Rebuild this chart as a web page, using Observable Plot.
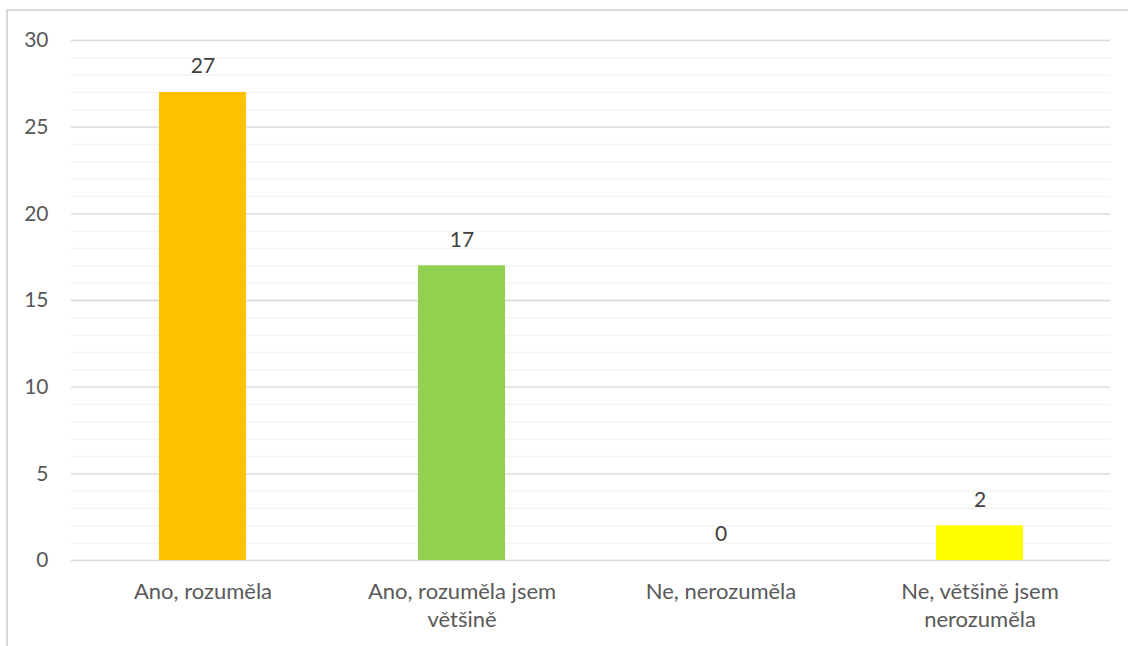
<!DOCTYPE html>
<html>
<head>
<meta charset="utf-8">
<script src="https://cdn.jsdelivr.net/npm/d3@7"></script>
<script src="https://cdn.jsdelivr.net/npm/@observablehq/plot@0.6"></script>
<style>
  html, body { margin: 0; padding: 0; background: #fff; overflow: hidden; }
  #wrap { position: relative; width: 1128px; height: 646px; overflow: hidden; }
  #border { position: absolute; left: 6px; top: 9px; width: 1200px; height: 700px;
            border: 2px solid #d9d9d9; box-sizing: border-box; pointer-events: none; }
  #chart { position: absolute; left: 0; top: 0; }
</style>
</head>
<body>
<div id="wrap"><div id="border"></div><div id="chart"></div></div>
<script>
// Answers to "Did you understand it?" — counts per answer
const categories = [
  "Ano, rozuměla",
  "Ano, rozuměla jsem\nvětšině",
  "Ne, nerozuměla",
  "Ne, většině jsem\nnerozuměla"
];
const values = [27, 17, 0, 2];
const colors = ["#FFC000", "#92D050", "#5B9BD5", "#FFFF00"];
const majorTicks = [0, 5, 10, 15, 20, 25, 30];
const minorTicks = d3.range(0, 31);

const data = categories.map((c, i) => ({category: c, value: values[i], color: colors[i]}));

const chart = Plot.plot({
  width: 1128,
  height: 646,
  marginLeft: 71,
  marginRight: 18,
  marginTop: 40,
  marginBottom: 86,
  style: {fontFamily: "Lato, 'Open Sans', sans-serif", fontSize: "21px", color: "#595959", background: "transparent"},
  x: {domain: categories, paddingInner: 0.665, paddingOuter: 0.3325, label: null},
  y: {domain: [0, 30], label: null},
  marks: [
    Plot.ruleY(minorTicks, {stroke: "#f2f2f2", strokeWidth: 1.3}),
    Plot.ruleY(majorTicks, {stroke: "#d9d9d9", strokeWidth: 1.3}),
    Plot.barY(data, {x: "category", y: "value", fill: "color"}),
    Plot.text(data, {x: "category", y: "value", text: d => String(d.value), dy: -26, fill: "#404040", fontSize: 21}),
    Plot.axisY(majorTicks, {tickSize: 0, tickPadding: 23, label: null, fill: "#595959", fontSize: 21}),
    Plot.axisX({tickSize: 0, tickPadding: 19, label: null, fill: "#595959", fontSize: 22, lineHeight: 1.27})
  ]
});
document.getElementById("chart").appendChild(chart);
</script>
</body>
</html>
